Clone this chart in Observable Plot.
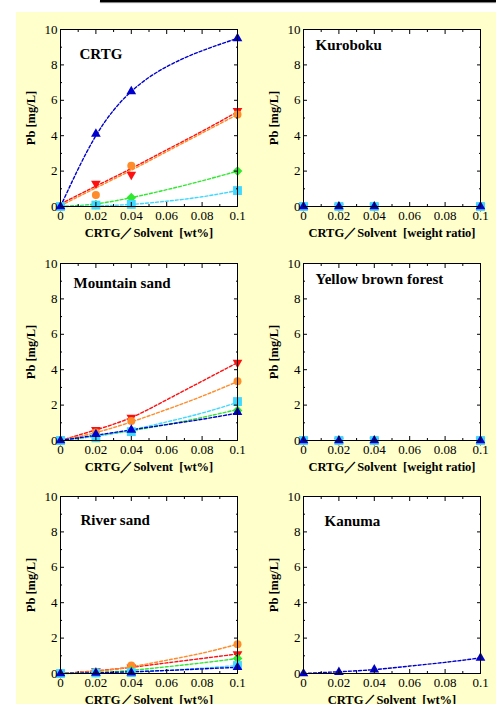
<!DOCTYPE html>
<html><head><meta charset="utf-8">
<script src="https://cdn.jsdelivr.net/npm/d3@7"></script>
<script src="https://cdn.jsdelivr.net/npm/@observablehq/plot@0.6"></script>
<style>
html,body{margin:0;padding:0;background:#fff;}
#page{position:relative;width:496px;height:704px;overflow:hidden;background:#fff;}
#bg{position:absolute;left:16px;top:12px;width:480px;height:692px;background:#FFFFCC;}
#bar{position:absolute;left:100px;top:0;width:396px;height:2px;background:#000;box-shadow:0 1px 1px #777;}
.panel{position:absolute;width:250px;height:232px;}
</style></head><body>
<div id="page"><div id="bg"></div><div id="bar"></div></div>
<script>
// ---------- data ----------
const panelTitles = ["CRTG", "Kuroboku", "Mountain sand", "Yellow brown forest", "River sand", "Kanuma"];
const xAxisLabels = ["CRTG／Solvent  [wt%]", "CRTG／Solvent  [weight ratio]", "CRTG／Solvent  [wt%]",
                     "CRTG／Solvent  [weight ratio]", "CRTG／Solvent  [wt%]", "CRTG／Solvent  [wt%]"];
const yAxisLabel = "Pb [mg/L]";
const xTicks = [0, 0.02, 0.04, 0.06, 0.08, 0.1];
const xTickLabels = ["0", "0.02", "0.04", "0.06", "0.08", "0.1"];
const xMinorTicks = [0.01, 0.03, 0.05, 0.07, 0.09];
const yTicks = [0, 2, 4, 6, 8, 10];
const yTickLabels = ["0", "2", "4", "6", "8", "10"];
const yMinorTicks = [1, 3, 5, 7, 9];

const doses = [0, 0.02, 0.04, 0.1];          // measured CRTG/solvent ratios
const fitDoses = [0, 0.02, 0.04, 0.06, 0.08, 0.1]; // where the dashed fit curves were read
const seriesKeys = ["red", "orange", "green", "cyan", "blue"]; // drawing order

// measured Pb [mg/L], rows follow seriesKeys
const crtgPb     = [[0, 1.3, 1.8, 5.4], [0, 0.65, 2.3, 5.2], [0, 0.1, 0.5, 2.0], [0, 0.08, 0.12, 0.9], [0, 4.1, 6.5, 9.5]];
const kurobokuPb = [[0, 0, 0, 0], [0, 0, 0, 0], [0, 0, 0, 0], [0, 0, 0, 0], [0, 0, 0, 0]];
const mountainPb = [[0, 0.6, 1.3, 4.4], [0, 0.45, 1.1, 3.35], [0, 0.25, 0.5, 1.7], [0, 0.15, 0.5, 2.2], [0, 0.35, 0.6, 1.6]];
const yellowPb   = [[0, 0, 0, 0], [0, 0, 0, 0], [0, 0, 0, 0], [0, 0, 0, 0], [0, 0, 0, 0]];
const riverPb    = [[0, 0.15, 0.35, 1.1], [0, 0.1, 0.45, 1.65], [0, 0.05, 0.15, 0.85], [0, 0.03, 0.05, 0.45], [0, 0.03, 0.05, 0.35]];
const kanumaPb   = [null, null, null, null, [0, 0.08, 0.22, 0.88]];

// dashed fit curves, rows follow seriesKeys
const crtgFit     = [[0.15, 1.15, 2.15, 3.2, 4.25, 5.35], [0.05, 1.05, 2.05, 3.1, 4.15, 5.2], [0, 0.15, 0.5, 0.95, 1.45, 2.0], [0, 0.03, 0.12, 0.3, 0.55, 0.9], [0, 4.0, 6.5, 7.9, 8.8, 9.5]];
const kurobokuFit = [null, null, null, null, null];
const mountainFit = [[0, 0.6, 1.3, 2.3, 3.35, 4.4], [0, 0.45, 1.05, 1.75, 2.5, 3.33], [0, 0.25, 0.55, 0.9, 1.3, 1.75], [0, 0.25, 0.6, 1.05, 1.55, 2.15], [0, 0.3, 0.6, 0.9, 1.2, 1.55]];
const yellowFit   = [null, null, null, null, null];
const riverFit    = [[0, 0.15, 0.35, 0.6, 0.85, 1.1], [0, 0.12, 0.38, 0.75, 1.15, 1.65], [0, 0.05, 0.18, 0.38, 0.6, 0.85], [0, 0.02, 0.08, 0.18, 0.3, 0.45], [0, 0.04, 0.1, 0.17, 0.26, 0.35]];
const kanumaFit   = [null, null, null, null, [0, 0.1, 0.22, 0.42, 0.63, 0.88]];

const panelPoints = [crtgPb, kurobokuPb, mountainPb, yellowPb, riverPb, kanumaPb];
const panelFits = [crtgFit, kurobokuFit, mountainFit, yellowFit, riverFit, kanumaFit];

// ---------- styles ----------
const colors = {red: "#FF1010", orange: "#FF8C2A", green: "#30E830", cyan: "#40D8FF", blue: "#0000CC"};
const triangleDown = {
  draw(context, size) {
    const y = -Math.sqrt(size / (Math.sqrt(3) * 3));
    context.moveTo(0, -y * 2);
    context.lineTo(-Math.sqrt(3) * y, y);
    context.lineTo(Math.sqrt(3) * y, y);
    context.closePath();
  }
};
const symbols = {red: triangleDown, orange: "circle", green: "diamond2", cyan: "square", blue: "triangle"};
const radii = {red: 3.6, orange: 4, green: 4.4, cyan: 5, blue: 3.6};
const panelLeft = [0, 243, 0, 243, 0, 243];
const panelTop = [19, 19, 253, 253, 486, 486];
const titleOffset = [[19, 25], [12, 16], [13, 20], [12, 16], [20, 24], [21, 25]];

const fontFamily = "'Liberation Serif', 'Times New Roman', serif";
const page = document.getElementById("page");

panelTitles.forEach((title, i) => {
  const marks = [Plot.frame({fill: "white", stroke: null})];
  seriesKeys.forEach((key, s) => {
    const fit = panelFits[i][s];
    if (!fit) return;
    const rows = fitDoses.map((x, j) => ({x, y: fit[j]}));
    marks.push(Plot.line(rows, {x: "x", y: "y", stroke: colors[key], strokeWidth: 1.4, strokeDasharray: "3,2", curve: "natural"}));
  });
  seriesKeys.forEach((key, s) => {
    const vals = panelPoints[i][s];
    if (!vals) return;
    const rows = doses.map((x, j) => ({x, y: vals[j]}));
    marks.push(Plot.dot(rows, {x: "x", y: "y", symbol: symbols[key], r: radii[key], fill: colors[key], stroke: "none"}));
  });
  const blank = () => "";
  marks.push(
    Plot.axisX({ticks: xTicks, tickFormat: d => xTickLabels[xTicks.indexOf(d)], tickSize: 0, tickPadding: 4, label: null}),
    Plot.axisY({ticks: yTicks, tickFormat: d => yTickLabels[yTicks.indexOf(d)], tickSize: 0, tickPadding: 3, label: null}),
    Plot.axisX({anchor: "bottom", ticks: xTicks, tickSize: -4, tickFormat: blank, fill: "none", label: null}),
    Plot.axisX({anchor: "bottom", ticks: xMinorTicks, tickSize: -2, tickFormat: blank, fill: "none", label: null}),
    Plot.axisX({anchor: "top", ticks: xTicks, tickSize: -4, tickFormat: blank, fill: "none", label: null}),
    Plot.axisX({anchor: "top", ticks: xMinorTicks, tickSize: -2, tickFormat: blank, fill: "none", label: null}),
    Plot.axisY({anchor: "left", ticks: yTicks, tickSize: -4, tickFormat: blank, fill: "none", label: null}),
    Plot.axisY({anchor: "left", ticks: yMinorTicks, tickSize: -2, tickFormat: blank, fill: "none", label: null}),
    Plot.axisY({anchor: "right", ticks: yTicks, tickSize: -4, tickFormat: blank, fill: "none", label: null}),
    Plot.axisY({anchor: "right", ticks: yMinorTicks, tickSize: -2, tickFormat: blank, fill: "none", label: null}),
    Plot.frame({stroke: "black", strokeWidth: 1}),
    Plot.text([title], {frameAnchor: "top-left", dx: titleOffset[i][0], dy: titleOffset[i][1], textAnchor: "start", lineAnchor: "middle", fontSize: 15, fontWeight: "bold"}),
    Plot.text([xAxisLabels[i]], {frameAnchor: "bottom", dy: 26, lineAnchor: "middle", fontSize: 12.5, fontWeight: "bold"}),
    Plot.text([yAxisLabel], {frameAnchor: "left", dx: -30, rotate: -90, textAnchor: "middle", lineAnchor: "middle", fontSize: 12.5, fontWeight: "bold"})
  );
  const chart = Plot.plot({
    width: 250, height: 232,
    marginLeft: 60, marginRight: 13, marginTop: 10, marginBottom: 45,
    x: {domain: [0, 0.1]},
    y: {domain: [0, 10]},
    style: {fontFamily, fontSize: "13px", background: "transparent", color: "black", overflow: "visible"},
    marks
  });
  const wrap = document.createElement("div");
  wrap.className = "panel";
  wrap.style.left = panelLeft[i] + "px";
  wrap.style.top = panelTop[i] + "px";
  wrap.appendChild(chart);
  page.appendChild(wrap);
});
</script>
</body></html>
